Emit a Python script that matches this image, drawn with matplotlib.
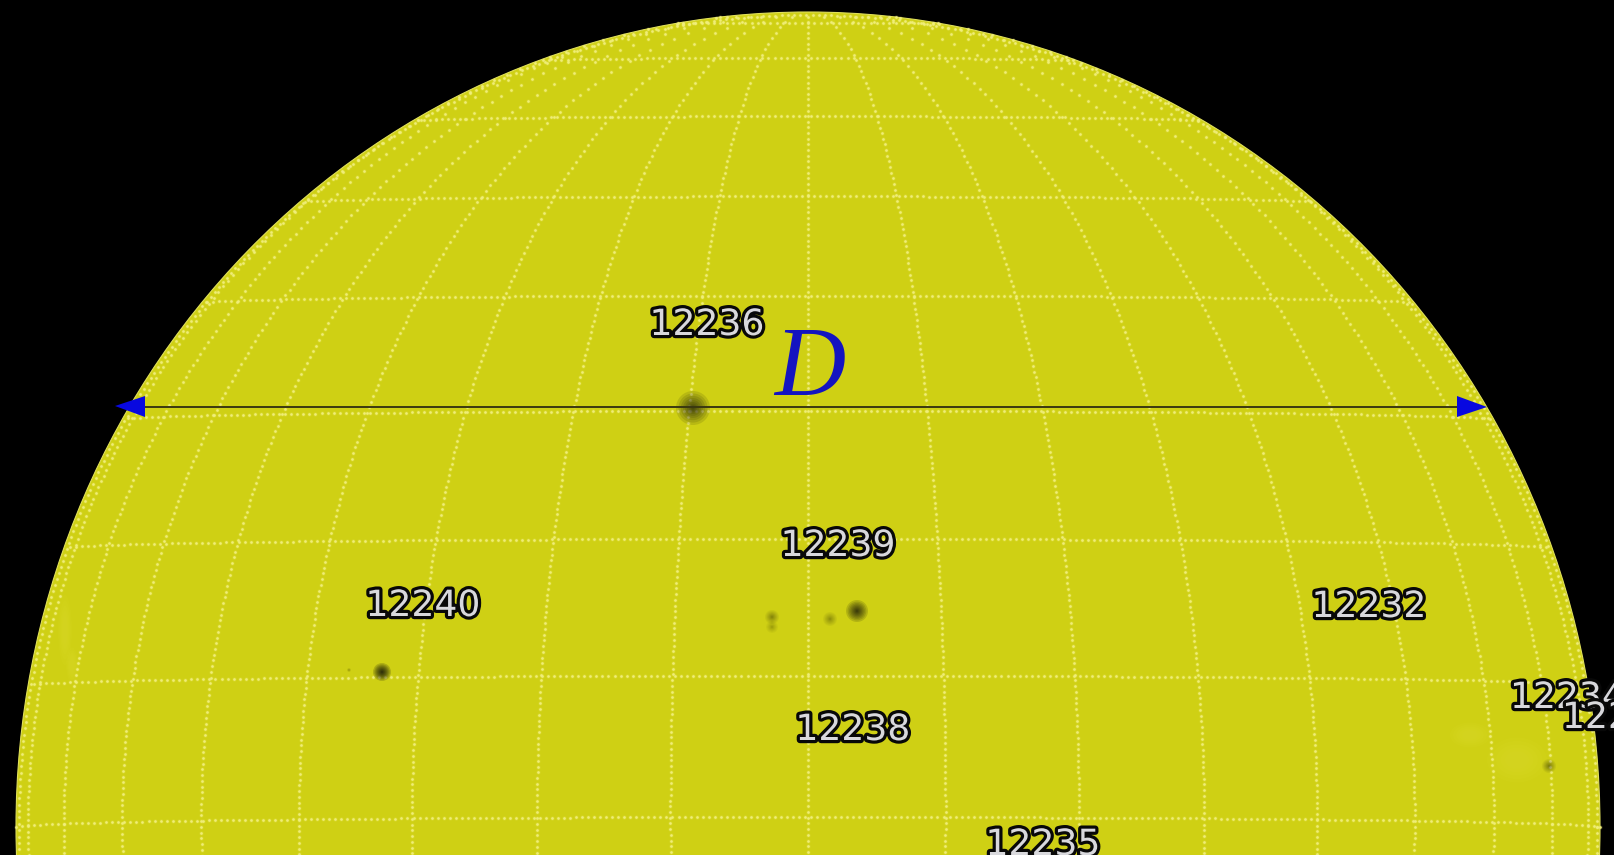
import numpy as np
import matplotlib
matplotlib.use("Agg")
import matplotlib.pyplot as plt
import matplotlib.patheffects as pe
from matplotlib.patches import Ellipse, Polygon, Rectangle

### DATA ###
LATITUDES = [0, 10, 20, 30, 40, 50, 60, 70, 80]
LONGITUDES = [-80, -70, -60, -50, -40, -30, -20, -10, 0, 10, 20, 30, 40, 50, 60, 70, 80]

region_names = ["12236", "12239", "12240", "12232", "12238", "12235", "12234", "12233"]
region_x = [707, 838, 423, 1369, 853, 1043, 1510, 1562]
region_y = [325, 546, 606, 607, 730, 845, 698, 718]
region_align = ["center", "center", "center", "center", "center", "center", "left", "left"]

# sunspots, in picture pixels: x, y, halo radius, darkness
spot_x = [693, 857, 772, 772, 830, 382, 349, 1549]
spot_y = [408, 611, 617, 627, 619, 672, 670, 766]
spot_r = [17, 11, 7, 6, 7, 9, 2, 7]
spot_dark = [0.6, 0.75, 0.25, 0.16, 0.22, 0.9, 0.2, 0.3]

# brighter patches near the limb
plage_x = [1517, 1470, 65, 72]
plage_y = [760, 735, 630, 665]
plage_w = [60, 40, 14, 12]
plage_h = [45, 25, 70, 35]

### DISK GEOMETRY ###
CX, CY = 808, 827
RX, RY = 792, 815
TILT = np.radians(-0.7)
W, H = 1614, 859

DISK = "#cfd014"
GRID = "#f1ef7c"


def project(lat, lon):
    lat = np.radians(lat)
    lon = np.radians(lon)
    x = np.cos(lat) * np.sin(lon)
    y = np.sin(lat) * np.cos(TILT) - np.cos(lat) * np.cos(lon) * np.sin(TILT)
    z = np.cos(lat) * np.cos(lon) * np.cos(TILT) + np.sin(lat) * np.sin(TILT)
    keep = z >= 0
    return CX + RX * x[keep], CY - RY * y[keep]


def dots(px, py):
    # soft halo under each dot, the source is a blurred jpeg
    ax.scatter(px, py, s=9, c=GRID, linewidths=0, alpha=0.22, zorder=2)
    ax.scatter(px, py, s=3.6, c=GRID, linewidths=0, alpha=0.95, zorder=2.1)


fig = plt.figure(figsize=(W / 100, H / 100), dpi=100, facecolor="black")
ax = fig.add_axes([0, 0, 1, 1], facecolor="black")
ax.set_xlim(0, W)
ax.set_ylim(H, 0)
ax.axis("off")

ax.add_patch(Ellipse((CX, CY), 2 * RX, 2 * RY, fc=DISK, ec="#e0e05a", lw=0.8, zorder=1))

# plages
for x, y, w, h in zip(plage_x, plage_y, plage_w, plage_h):
    for k in np.linspace(1, 0.4, 5):
        ax.add_patch(Ellipse((x, y), w * k, h * k, fc="#dcdc30", ec="none", alpha=0.1, zorder=1.5))

# grid, dotted, evenly spaced on screen
for lat in LATITUDES:
    n = max(int(2 * RX * np.cos(np.radians(lat)) / 6), 2)
    lon = np.degrees(np.arcsin(np.linspace(-1, 1, n)))
    px, py = project(np.full(n, lat), lon)
    dots(px, py)
for lon in LONGITUDES:
    lat = np.degrees(np.arcsin(np.linspace(-0.05, 1, 150)))
    px, py = project(lat, np.full(150, lon))
    dots(px, py)

# limb dots
t = np.linspace(0, 2 * np.pi, 800)
dots(CX + (RX - 3) * np.cos(t), CY + (RY - 3) * np.sin(t))

# sunspots
for x, y, r, d in zip(spot_x, spot_y, spot_r, spot_dark):
    for k in np.linspace(1, 0.1, 10) ** 1.5:
        ax.add_patch(Ellipse((x, y), 2 * r * k, 2 * r * k, fc="#15150a", ec="none",
                             alpha=d / 5, zorder=3))

# diameter
ax.plot([140, 1460], [407, 407], color="#3a3810", lw=1.4, zorder=4)
ax.add_patch(Polygon([[115, 406], [145, 396], [145, 417]], fc="#0808e0", ec="none", zorder=5))
ax.add_patch(Polygon([[1487, 407], [1457, 396], [1457, 417]], fc="#0808e0", ec="none", zorder=5))
ax.text(810, 395, "D", family="Liberation Serif", style="italic", fontsize=71,
        color="#1414c0", ha="center", va="baseline", zorder=6)

# region numbers
for name, x, y, al in zip(region_names, region_x, region_y, region_align):
    ax.text(x, y, name, fontsize=26, color="#d8d8dc", ha=al, va="center", zorder=7,
            path_effects=[pe.withStroke(linewidth=4.6, foreground="#080808")])

ax.add_patch(Rectangle((0, 855), W, 4, fc="white", ec="none", zorder=8))

fig.savefig("out.png", dpi=100, facecolor="black")
